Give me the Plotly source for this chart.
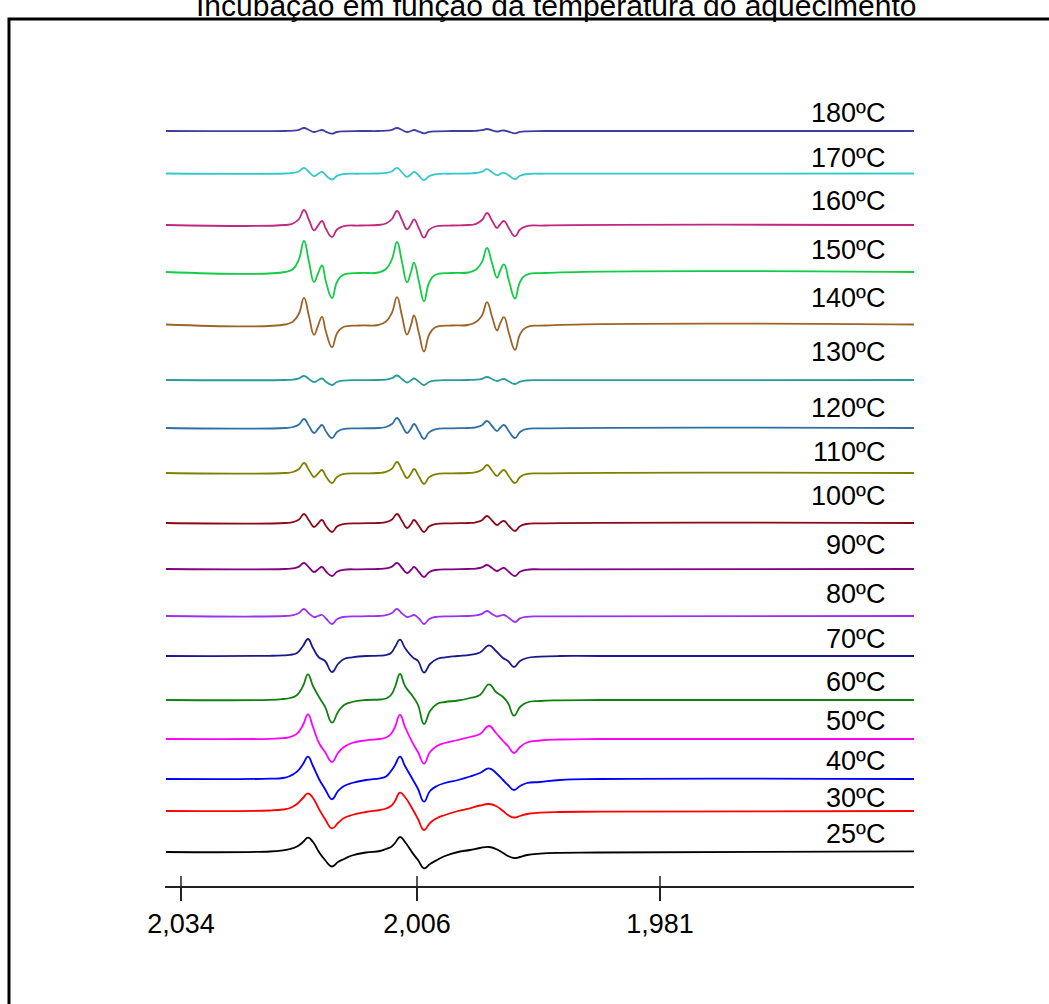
import plotly.graph_objects as go

# ---------------- data ----------------
# magnetic-field sample points (spectrometer channel units)
field_hi = [1, 120, 128, 134, 139, 144, 149, 153, 157, 161, 167, 172, 178, 195,
            213, 221, 227, 232, 237, 242, 246, 249, 254, 259, 264, 270, 287,
            303, 311, 317, 322, 327, 332, 335, 339, 344, 350, 355, 361, 380, 749]
field_lo = [1, 105, 118, 125, 132, 138, 143, 148, 154, 160, 167, 173, 179, 187, 201,
            215, 221, 226, 230, 235, 240, 248, 253, 259, 265, 272, 280, 293,
            305, 315, 324, 331, 338, 343, 349, 355, 362, 375, 395, 435, 749]

# EPR signal (relative intensity) for each heating temperature
amp_180 = [0, 0, 0.3, 1.2, 3, 1, -1, 0, 1, -0.8, -2.6, -1, -0.3, 0,
           0, 0.3, 1.2, 3, 1, -1, 0, 1, -0.6, -2.3, -0.9, -0.3, 0,
           0, 0.2, 0.8, 2, 0.7, -0.5, 0, 0.5, -0.8, -2.3, -0.9, -0.3, 0, 0]
amp_170 = [0, 0, 0.6, 2.3, 5.6, 1.5, -2.7, -0.5, 1.7, -2, -6, -2.4, -0.7, -0.2,
           0, 0.6, 2.3, 5.6, 1.2, -3.3, -0.8, 1.7, -2.2, -6.7, -2.7, -0.8, -0.2,
           0, 0.5, 1.8, 4.3, 1.3, -1.7, -0.5, 0.7, -2, -5.7, -2.3, -0.7, -0.2, 0]
amp_160 = [0, 0, 1.5, 6, 15, 5, -5.3, -0.6, 4, -4, -12, -4.5, -1.3, -0.5,
           0, 1.5, 6, 14, 5, -4.3, 0.7, 5.7, -3.5, -12.6, -5, -1.5, -0.5,
           0, 1.2, 5, 12, 4.5, -3, 0.5, 4, -3.5, -11.3, -4.5, -1.3, -0.5, 0]
amp_150 = [0, 0, 3, 13, 31, 10, -10, -1.5, 6.7, -10, -26, -10, -3, -1,
           -0.5, 3, 13, 30, 10, -10.3, 0, 9.4, -10, -29.3, -11, -3, -1,
           -0.5, 2.5, 10, 24, 9, -5.6, 1, 7.7, -9, -26.6, -10, -3, -1, 0]
amp_140 = [0, 0, 3, 11, 26.7, 8, -10.3, -1.3, 7.7, -7.5, -22.7, -9, -2.7, -1,
           -0.5, 3, 12, 27.3, 8.5, -10, -0.5, 9, -9, -27, -10.5, -3, -1,
           -0.5, 2.5, 9, 22.3, 8, -6, 0.7, 7.3, -9, -25.3, -10, -3, -1, 0]
amp_130 = [0, 0, 0.4, 1.6, 4, 1, -2, -0.3, 1.5, -1.8, -5, -2, -0.6, -0.2,
           0, 0.4, 1.8, 4.5, 1, -2.5, -0.5, 1.5, -1.8, -5, -2, -0.6, -0.2,
           0, 0.3, 1.2, 3, 1, -1, 0, 1, -1.5, -4, -1.6, -0.5, -0.2, 0]
amp_120 = [0, 0, 1, 3.6, 9, 2, -5, -1, 3, -3.5, -10, -4, -1.2, -0.4,
           0, 1, 4, 10, 2.5, -5, -0.5, 4, -3.5, -11, -4.4, -1.3, -0.4,
           0, 0.7, 2.8, 7, 2, -3, 0, 3, -3.5, -10, -4, -1.2, -0.4, 0]
amp_110 = [0, 0, 1, 4, 10, 3, -4, -0.5, 3, -3.5, -10, -4, -1.2, -0.4,
           0, 1.1, 4.4, 11, 3, -5, -0.5, 4, -3.5, -11, -4.4, -1.3, -0.4,
           0, 0.8, 3.2, 8, 2.5, -3, 0, 3, -3.5, -10, -4, -1.2, -0.4, 0]
amp_100 = [0, 0, 0.9, 3.6, 9, 2.5, -4, -0.5, 3, -3, -9, -3.6, -1.1, -0.3,
           0, 0.9, 3.6, 9, 2, -5, -1, 3, -3, -9, -3.6, -1.1, -0.3,
           0, 0.7, 2.8, 7, 2.5, -2, 0, 2, -3, -8, -3.2, -1, -0.3, 0]
amp_90 = [0, 0, 0.6, 2.4, 6, 1.5, -3, -0.5, 2, -2.5, -7, -2.8, -0.8, -0.3,
          0, 0.6, 2.4, 6, 1, -4, -1, 2, -3, -8, -3.2, -1, -0.3,
          0, 0.4, 1.6, 4, 1, -2, -0.5, 1, -3, -7, -2.8, -0.8, -0.3, 0]
amp_80 = [0, 0, 0.8, 3, 7, 2.5, -1, 0, 1, -2.5, -8, -3.2, -1, -0.3,
          0, 0.8, 3, 7, 2.5, -1, 0, 1, -2.5, -8, -3.2, -1, -0.3,
          0, 0.6, 2.2, 5, 2, -0.5, 0.3, 1, -2, -6, -2.4, -0.8, -0.3, 0]
amp_70 = [0, 0.2, 0.6, 1.2, 3, 10, 17, 8, -1.5, -5, -16, -8, -3, -1.3, 0,
          0.3, 1, 3, 9, 16.4, 8, -1.6, -5, -16.6, -8, -3, -1.3, 0,
          1.2, 3.5, 10.7, 5, -2, -5, -11, -5, -2, -0.7, 0, 0, 0]
amp_60 = [0, 0.2, 1, 2, 5, 14, 25.7, 14, 3, -6.7, -22.7, -12, -5, -2, 0,
          0.5, 1.5, 5, 13, 26, 14, 3.3, -5, -24, -11, -4, -2, -0.5,
          2, 5, 15.7, 8, 3, -3, -15.7, -7, -2.5, -1, -0.3, 0, 0]
amp_50 = [0, 0.2, 0.8, 2, 5.4, 14, 24.7, 12, -4, -13, -23, -14, -8, -4, -1.3,
          0, 1.5, 5, 12, 24.4, 12, -4.6, -13, -24.6, -13, -7, -4, -1,
          2, 5, 13, 6, -2, -7, -14, -8, -3.5, -1.5, -0.5, 0, 0]
amp_40 = [0, 0.3, 1, 3, 7.3, 15, 22.3, 13, 0, -10, -20.3, -12, -7, -4, -1,
          0.7, 2.5, 8, 14, 22.3, 13, -1, -10, -22.7, -12, -7, -4, -1,
          2.5, 6, 10.7, 6, -1, -6, -11, -7, -4, -3, -1, 0, 0]
amp_30 = [0, 0.5, 1.5, 3, 7, 13, 17.7, 13, 2, -8, -17.3, -12, -7, -4, -1,
          1, 2.5, 5, 10, 18.3, 14, 1, -8, -19, -12, -7, -4, 0,
          2.7, 5.5, 7, 5, 0, -4, -6.5, -5, -3, -1.7, -1, -0.7, 0]
amp_25 = [0, 0.5, 1.7, 3, 5.5, 10, 14.4, 10, 0, -8, -14.5, -10, -7, -3.5, -0.5,
          1, 3, 5, 9, 15, 10, -1.6, -8, -16.3, -12, -8, -4, 0,
          2, 4, 5, 3, -1, -4, -6, -5, -3, -1.6, -0.8, -0.5, 0.6]

temps = ["180ºC", "170ºC", "160ºC", "150ºC", "140ºC", "130ºC", "120ºC", "110ºC",
         "100ºC", "90ºC", "80ºC", "70ºC", "60ºC", "50ºC", "40ºC", "30ºC", "25ºC"]
# vertical stacking offset of each spectrum
offsets = [755, 712.5, 661, 614, 561.5, 506, 458, 413, 363, 317, 270,
           230, 186, 147, 107, 75, 34]

# g-value tick labels
tick_vals = [16, 252, 495]
tick_text = ["2,034", "2,006", "1,981"]

# ---------------- styling ----------------
colors = ["#3f3f9f", "#33c8cc", "#c1287e", "#11cc44", "#9c6428", "#2a9a9c",
          "#2f6fa5", "#808000", "#8b0a1a", "#800080", "#9a32f0",
          "#1a1a8c", "#108010", "#ff00ff", "#0000ff", "#ff0000", "#000000"]
label_y = [773.5, 728, 685, 636, 588, 534, 478, 434, 390, 341, 292,
           247, 204, 165, 125, 88, 52]
label_x = 722
FONT = "Liberation Sans, Arial, sans-serif"

amps = [amp_180, amp_170, amp_160, amp_150, amp_140, amp_130, amp_120, amp_110,
        amp_100, amp_90, amp_80, amp_70, amp_60, amp_50, amp_40, amp_30, amp_25]
grids = [field_hi] * 11 + [field_lo] * 6

fig = go.Figure()
for name, grid, amp, off, col in zip(temps, grids, amps, offsets, colors):
    fig.add_trace(go.Scatter(
        x=grid, y=[off + a for a in amp], mode="lines", name=name,
        line=dict(color=col, width=1.8, shape="spline", smoothing=1.3),
        hoverinfo="skip", showlegend=False))

annotations = []
for name, ly in zip(temps, label_y):
    annotations.append(dict(x=label_x, y=ly, xref="x", yref="y", text=name,
                            showarrow=False, xanchor="right", yanchor="middle",
                            font=dict(family=FONT, size=27, color="black")))
annotations.append(dict(x=0.522, y=1.0967, xref="paper", yref="paper",
                        text="Incubação em função da temperatura do aquecimento",
                        showarrow=False, xanchor="center", yanchor="bottom",
                        font=dict(family=FONT, size=30, color="black")))

shapes = [dict(type="rect", xref="paper", yref="paper",
               x0=-0.2083, x1=1.2, y0=-0.17, y1=(886 - 19) / 786,
               line=dict(color="black", width=3), fillcolor="rgba(0,0,0,0)",
               layer="above")]
for v in tick_vals:
    shapes.append(dict(type="line", xref="x", yref="paper", x0=v, x1=v,
                       y0=0, y1=10 / 786, line=dict(color="#222", width=1.5)))

fig.update_layout(
    width=1049, height=1004,
    margin=dict(l=165, r=135, t=100, b=118),
    paper_bgcolor="white", plot_bgcolor="white",
    annotations=annotations, shapes=shapes,
    xaxis=dict(range=[0, 749], showline=True, linecolor="#222", linewidth=1.5,
               ticks="outside", ticklen=13, tickwidth=1.5, tickcolor="#222",
               tickvals=tick_vals, ticktext=tick_text, showgrid=False,
               zeroline=False, ticklabelstandoff=0,
               tickfont=dict(family=FONT, size=27, color="black")),
    yaxis=dict(range=[0, 786], visible=False, showgrid=False, zeroline=False),
)

fig.write_html("out.html")
